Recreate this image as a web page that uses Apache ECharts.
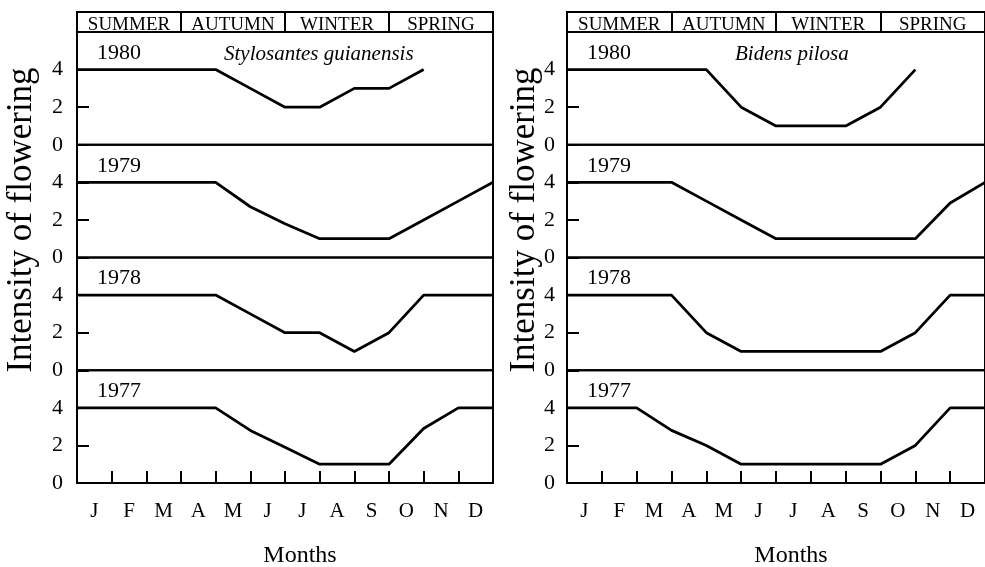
<!DOCTYPE html>
<html>
<head>
<meta charset="utf-8">
<script src="https://cdn.jsdelivr.net/npm/echarts@6/dist/echarts.min.js"></script>
<style>
  html, body { margin: 0; padding: 0; background: #fff; }
  #chart { width: 985px; height: 567px; }
</style>
</head>
<body>
<div id="chart"></div>
<script>
// month boundaries (end of each month) used as x positions
const boundaries = [0, 1, 2, 3, 4, 5, 6, 7, 8, 9, 10, 11, 12];
const months = ["J", "F", "M", "A", "M", "J", "J", "A", "S", "O", "N", "D"];
const seasons = ["SUMMER", "AUTUMN", "WINTER", "SPRING"];
const years = ["1980", "1979", "1978", "1977"];
const yTicks = [0, 2, 4];

// Stylosantes guianensis, intensity at each month boundary
const stylo1980 = [4, 4, 4, 4, 4, 3, 2, 2, 3, 3, 4, null, null];
const stylo1979 = [4, 4, 4, 4, 4, 2.7, 1.8, 1, 1, 1, 2, 3, 4];
const stylo1978 = [4, 4, 4, 4, 4, 3, 2, 2, 1, 2, 4, 4, 4];
const stylo1977 = [4, 4, 4, 4, 4, 2.8, 1.9, 1, 1, 1, 2.9, 4, 4];

// Bidens pilosa
const bidens1980 = [4, 4, 4, 4, 4, 2, 1, 1, 1, 2, 4, null, null];
const bidens1979 = [4, 4, 4, 4, 3, 2, 1, 1, 1, 1, 1, 2.9, 4];
const bidens1978 = [4, 4, 4, 4, 2, 1, 1, 1, 1, 1, 2, 4, 4];
const bidens1977 = [4, 4, 4, 2.8, 2, 1, 1, 1, 1, 1, 2, 4, 4];

const panels = [
  { title: "Stylosantes guianensis", left: 77, width: 416, titleLeft: 224, labelX: 22, tickMargin: 14,
    data: [stylo1980, stylo1979, stylo1978, stylo1977] },
  { title: "Bidens pilosa", left: 567, width: 418, titleLeft: 735, labelX: 525, tickMargin: 12,
    data: [bidens1980, bidens1979, bidens1978, bidens1977] },
];

const font = "Liberation Serif";
const ink = "#000";
const stripTop = 12;
const stripHeight = 20;
const rowHeight = 112.75;

let chart = echarts.init(document.getElementById("chart"));

let grid = [];
let xAxis = [];
let yAxis = [];
let series = [];
let title = [];
let graphic = [];

panels.forEach((p) => {
  // season strip on top
  let gi = grid.length;
  grid.push({
    left: p.left, width: p.width, top: stripTop, height: stripHeight,
    show: true, borderColor: ink, borderWidth: 2, outerBoundsMode: "none",
  });
  xAxis.push({
    gridIndex: gi, type: "category", data: seasons, boundaryGap: true,
    axisLine: { show: false }, axisTick: { show: false },
    splitLine: { show: true, interval: 0, lineStyle: { color: ink, width: 2 } },
    axisLabel: { inside: true, margin: -3, color: ink, fontFamily: font, fontSize: 19, interval: 0 },
  });
  yAxis.push({ gridIndex: gi, type: "value", show: false, min: 0, max: 1 });

  // one strip per year
  years.forEach((yr, k) => {
    let g = grid.length;
    let last = k === years.length - 1;
    grid.push({
      left: p.left, width: p.width, top: stripTop + stripHeight + rowHeight * k, height: rowHeight,
      show: true, borderColor: ink, borderWidth: 2, outerBoundsMode: "none",
    });
    let xi = xAxis.length;
    xAxis.push({
      gridIndex: g, type: "value", min: 0, max: 12, interval: 1,
      axisLine: { show: false },
      axisTick: { show: last, inside: true, length: 12, lineStyle: { color: ink, width: 2 } },
      axisLabel: { show: false }, splitLine: { show: false },
    });
    if (last) {
      // month letters sit between the ticks
      xAxis.push({
        gridIndex: g, type: "category", data: months, boundaryGap: true, position: "bottom",
        axisLine: { show: false }, axisTick: { show: false }, splitLine: { show: false },
        axisLabel: { interval: 0, margin: 18, color: ink, fontFamily: font, fontSize: 21 },
        name: "Months", nameLocation: "middle", nameGap: 61, nameMoveOverlap: false,
        nameTextStyle: { color: ink, fontFamily: font, fontSize: 24, padding: [0, 0, 0, 30] },
      });
    }
    let yi = yAxis.length;
    yAxis.push({
      gridIndex: g, type: "value", min: 0, max: 6, interval: 2,
      axisLine: { show: false },
      axisTick: { show: true, inside: true, length: 12, lineStyle: { color: ink, width: 2 } },
      splitLine: { show: false },
      axisLabel: {
        margin: p.tickMargin, color: ink, fontFamily: font, fontSize: 22,
        formatter: (v) => (yTicks.indexOf(v) >= 0 ? String(v) : ""),
      },
      name: yr, nameLocation: "end", nameGap: -21, nameMoveOverlap: false,
      nameTextStyle: { color: ink, fontFamily: font, fontSize: 22, align: "left", verticalAlign: "middle", padding: [0, 0, 0, 20] },
    });
    series.push({
      type: "line", xAxisIndex: xi, yAxisIndex: yi,
      data: boundaries.map((b, i) => [b, p.data[k][i]]),
      symbol: "none", connectNulls: false,
      lineStyle: { color: ink, width: 2.8 },
    });
  });

  title.push({
    text: p.title, left: p.titleLeft, top: 44, padding: 0,
    textStyle: { color: ink, fontFamily: font, fontSize: 21, fontStyle: "italic", fontWeight: "normal" },
  });
  graphic.push({
    type: "text", x: p.labelX, y: 220, rotation: Math.PI / 2,
    style: { text: "Intensity of flowering", fill: ink, font: "35px 'Liberation Serif'", align: "center", verticalAlign: "middle" },
  });
});

chart.setOption({
  backgroundColor: "#fff",
  animation: false,
  title: title,
  grid: grid,
  xAxis: xAxis,
  yAxis: yAxis,
  series: series,
  graphic: graphic,
});
</script>
</body>
</html>
